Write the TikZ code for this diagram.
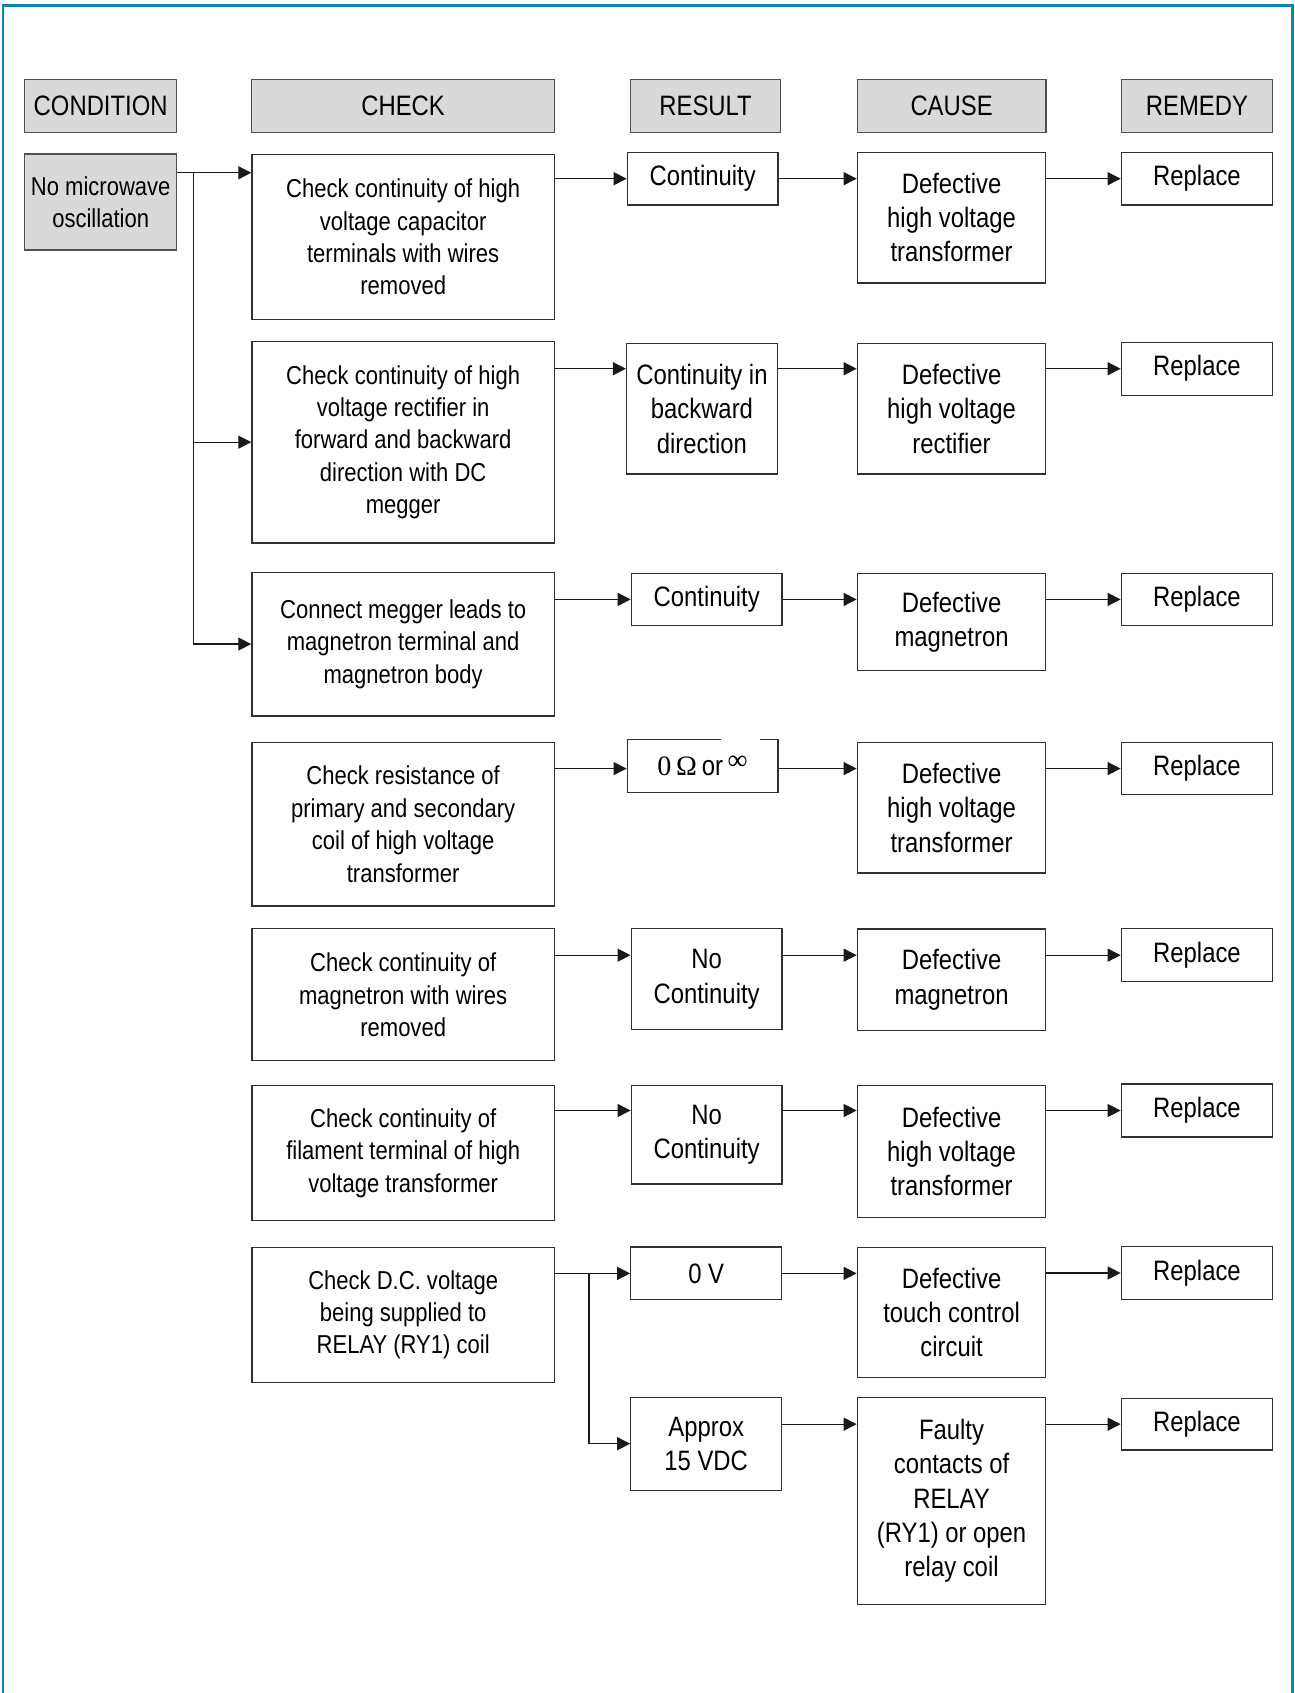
\documentclass[tikz,border=0pt]{standalone}
\usepackage{fontspec}
\setmainfont{Liberation Sans}[FakeStretch=0.85]
\newfontfamily\serifF{Liberation Serif}
\usetikzlibrary{arrows.meta}
\definecolor{framec}{HTML}{0E86AE}
\definecolor{hdrfill}{HTML}{D9D9D9}
\definecolor{boxc}{HTML}{303030}
\newcommand\fsA{\fontsize{13}{15.9}\selectfont}
\newcommand\fsB{\fontsize{12}{15}\selectfont}
\tikzset{
  box/.style={draw=boxc, line width=0.6pt, inner sep=0pt, align=center, font=\fsA, fill=white},
  hdr/.style={box, fill=hdrfill, draw=boxc!85, minimum height=24.5pt},
  chkbox/.style={box, font=\fsB, minimum width=140.1pt},
  resbox/.style={box, minimum width=69.8pt},
  caubox/.style={box, minimum width=87.3pt},
  rembox/.style={box, minimum width=70.1pt},
  ht/.style={minimum height=#1pt},
  arr/.style={draw=black!90, line width=0.6pt, -{Triangle[length=6pt,width=6pt]}},
  frame/.style={draw=framec, line width=1.3pt}
}
\begin{document}
\begin{tikzpicture}[x=0.5pt,y=-0.5pt]
\useasboundingbox (0,0) rectangle (1199,1568);
\draw[frame] (2.7,1568) -- (2.7,5.2) -- (1196.8,5.2) -- (1196.8,1568);

% headers
\node[hdr, minimum width=70.25pt] (hcond) at (93.25,98) {CONDITION};
\node[hdr, minimum width=140.3pt] (hcheck) at (373.3,98) {CHECK};
\node[hdr, minimum width=69.5pt] (hres) at (653.5,98) {RESULT};
\node[hdr, minimum width=87.35pt] (hcause) at (881.35,98) {CAUSE};
\node[hdr, minimum width=70.2pt] (hrem) at (1108.6,98) {REMEDY};

% condition
\node[hdr, font=\fsB, minimum width=70.25pt, ht=44.45] (cond) at (93.25,187.05) {No microwave\\oscillation};

% row 1
\node[chkbox, ht=76.25] (chk1) at (373.4,219.45) {Check continuity of high\\voltage capacitor\\terminals with wires\\removed};
\node[resbox, ht=24.5] (res1) at (650.8,165.5) {Continuity};
\node[caubox, ht=60.5] (cau1) at (881.3,201.5) {Defective\\high voltage\\transformer};
\node[rembox, ht=24.5] (rem1) at (1108.6,165.5) {Replace};

% row 2
\node[chkbox, ht=93.5] (chk2) at (373.4,409.5) {Check continuity of high\\voltage rectifier in\\forward and backward\\direction with DC\\megger};
\node[resbox, ht=60.5] (res2) at (650.1,378.5) {Continuity in\\backward\\direction};
\node[caubox, ht=60.5] (cau2) at (881.3,378.5) {Defective\\high voltage\\rectifier};
\node[rembox, ht=24.5] (rem2) at (1108.6,341.5) {Replace};

% row 3
\node[chkbox, ht=66.5] (chk3) at (373.4,596.5) {Connect megger leads to\\magnetron terminal and\\magnetron body};
\node[resbox, ht=24.3] (res3) at (654.5,555.3) {Continuity};
\node[caubox, ht=45.15] (cau3) at (881.3,576.15) {Defective\\magnetron};
\node[rembox, ht=24.15] (rem3) at (1108.6,555.15) {Replace};

% row 4
\node[chkbox, ht=75.75] (chk4) at (373.4,763.45) {Check resistance of\\primary and secondary\\coil of high voltage\\transformer};
\node[resbox, ht=24.7] (res4) at (650.7,709.3) {{\serifF 0\,Ω}\,or\,{\serifF\raisebox{3pt}{∞}}};
\node[caubox, ht=60.45] (cau4) at (881.3,748.15) {Defective\\high voltage\\transformer};
\node[rembox, ht=24.15] (rem4) at (1108.6,711.85) {Replace};
\draw[white, line width=1.5pt] ([xshift=43.85pt]res4.north west) -- ([xshift=61.65pt]res4.north west);

% row 5
\node[chkbox, ht=61.1] (chk5) at (373.4,921.3) {Check continuity of\\magnetron with wires\\removed};
\node[resbox, ht=46.75] (res5) at (654.4,906.95) {No\\Continuity};
\node[caubox, ht=46.9] (cau5) at (881.3,907.4) {Defective\\magnetron};
\node[rembox, ht=24.65] (rem5) at (1108.6,884.65) {Replace};

% row 6
\node[chkbox, ht=62.5] (chk6) at (373.4,1068.1) {Check continuity of\\filament terminal of high\\voltage transformer};
\node[resbox, ht=45.5] (res6) at (654.4,1051.1) {No\\Continuity};
\node[caubox, ht=60.85] (cau6) at (881.3,1066.45) {Defective\\high voltage\\transformer};
\node[rembox, ht=24.5] (rem6) at (1108.6,1028.5) {Replace};

% row 7
\node[chkbox, ht=62.45] (chk7) at (373.4,1217.75) {Check D.C. voltage\\being supplied to\\RELAY (RY1) coil};
\node[resbox, ht=24.35] (res7) at (654.05,1179.35) {0 V};
\node[caubox, ht=60.35] (cau7) at (881.3,1215.65) {Defective\\touch control\\circuit};
\node[rembox, ht=24.7] (rem7) at (1108.6,1179) {Replace};

% row 8
\node[resbox, ht=43.1] (res8) at (654.05,1337.1) {Approx\\15 VDC};
\node[caubox, ht=96] (cau8) at (881.3,1390) {Faulty\\contacts of\\RELAY\\(RY1) or open\\relay coil};
\node[rembox, ht=24] (rem8) at (1108.6,1319) {Replace};

% connectors from condition
\coordinate (j) at (179.3,160);
\draw[arr] (cond.east |- j) -- (chk1.west |- j);
\draw[arr] (j) |- (chk2.west);
\draw[arr] (j) |- (chk3.west);

% row connectors
\foreach \n in {1,2,3,4,5,6}{
  \draw[arr] (chk\n.east |- rem\n.west) -- (res\n.west |- rem\n.west);
  \draw[arr] (res\n.east |- rem\n.west) -- (cau\n.west |- rem\n.west);
  \draw[arr] (cau\n.east |- rem\n.west) -- (rem\n.west);
}
% row 7 and split
\coordinate (s) at (545.6,1179.4);
\draw[arr] (chk7.east |- res7.west) -- (res7.west);
\draw[arr] (s) |- (res8.west);
\draw[arr] (res7.east) -- (cau7.west |- res7.east);
\draw[arr] (cau7.east |- rem7.west) -- (rem7.west);
\draw[arr] (res8.east |- rem8.west) -- (cau8.west |- rem8.west);
\draw[arr] (cau8.east |- rem8.west) -- (rem8.west);
\end{tikzpicture}
\end{document}
